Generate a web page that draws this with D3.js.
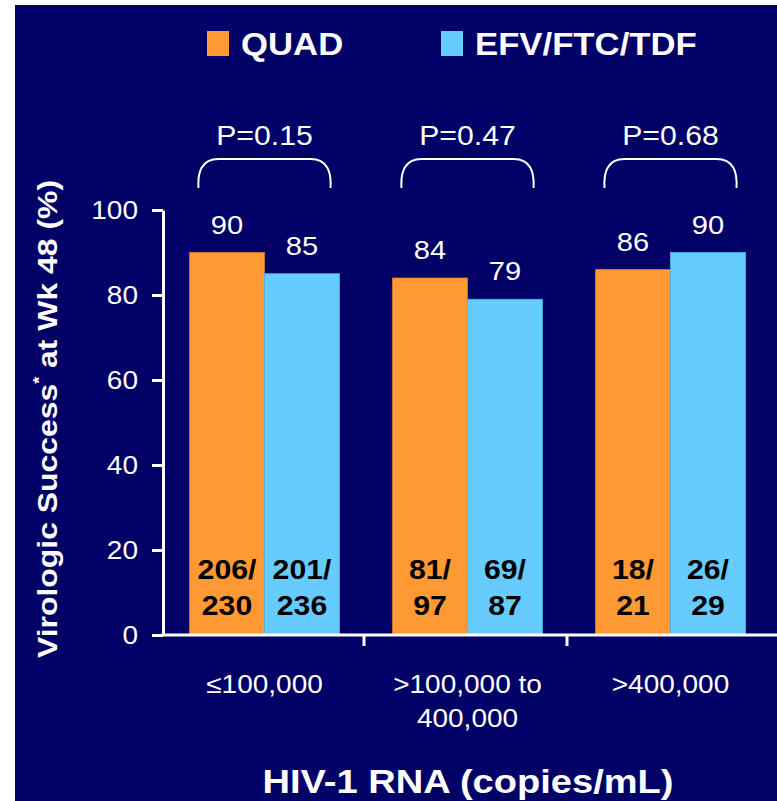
<!DOCTYPE html>
<html>
<head>
<meta charset="utf-8">
<script src="https://cdn.jsdelivr.net/npm/d3@7"></script>
<style>
  html, body { margin: 0; padding: 0; background: #ffffff; }
  svg { display: block; }
  text { font-family: "Liberation Sans", Arial, sans-serif; }
</style>
</head>
<body>
<svg id="chart" width="777" height="801"></svg>
<script>
// ---- data ----
const categories = ["≤100,000", ">100,000 to\n400,000", ">400,000"];
const seriesNames = ["QUAD", "EFV/FTC/TDF"];
const quadValues = [90, 84, 86];
const efvValues = [85, 79, 90];
const quadCounts = ["206/\n230", "81/\n97", "18/\n21"];
const efvCounts = ["201/\n236", "69/\n87", "26/\n29"];
const pValues = ["P=0.15", "P=0.47", "P=0.68"];
const yTicks = [0, 20, 40, 60, 80, 100];
const yTitle = "Virologic Success";
const yTitleRest = " at Wk 48 (%)";
const xTitle = "HIV-1 RNA (copies/mL)";

// ---- styles ----
const BG = "#000066", ORANGE = "#FF9933", BLUE = "#66CCFF", FG = "#ffffff";
const SX = 1.12; // horizontal stretch of the original slide text

const svg = d3.select("#chart");
svg.append("rect").attr("x", 15).attr("y", 5).attr("width", 762).attr("height", 796).attr("fill", BG);

const x0 = 163, yBase = 635, yTop = 210;
const x = d3.scaleBand().domain(categories).range([x0, x0 + 3 * 203]).paddingInner(0).paddingOuter(0);
const xi = d3.scaleBand().domain(seriesNames).range([26.5, 176.5]);
const y = d3.scaleLinear().domain([0, 100]).range([yBase, yTop]);

function txt(g, xx, yy, str, size, weight, anchor, fill, sx) {
  return g.append("text")
    .attr("transform", `translate(${xx},${yy}) scale(${sx || SX},1)`)
    .attr("font-size", size).attr("font-weight", weight || "normal")
    .attr("text-anchor", anchor || "middle").attr("fill", fill || FG)
    .text(str);
}

const rows = categories.map((c, i) => ({c, i, vals: [quadValues[i], efvValues[i]], counts: [quadCounts[i], efvCounts[i]]}));

// bars
const groups = svg.selectAll("g.grp").data(rows).join("g").attr("class", "grp")
  .attr("transform", d => `translate(${x(d.c)},0)`);
groups.selectAll("rect").data(d => d.vals.map((v, k) => ({v, k, n: d.counts[k]}))).join("rect")
  .attr("x", d => xi(seriesNames[d.k])).attr("width", xi.bandwidth())
  .attr("y", d => y(d.v)).attr("height", d => yBase - y(d.v))
  .attr("fill", d => d.k === 0 ? ORANGE : BLUE)
  .attr("stroke", d => d.k === 0 ? "#d9782a" : "#4fb3e6").attr("stroke-width", 0.8);

groups.each(function(d) {
  const g = d3.select(this);
  d.vals.forEach((v, k) => {
    const cx = xi(seriesNames[k]) + xi.bandwidth() / 2;
    txt(g, cx, y(v) - 19, String(v), 26, "normal", "middle", FG);
    const lines = d.counts[k].split("\n");
    txt(g, cx, 579, lines[0], 27, "bold", "middle", "#000000");
    txt(g, cx, 615, lines[1], 27, "bold", "middle", "#000000");
  });
  // bracket + p-value
  const cx = x.bandwidth() / 2;
  const L = cx - 66, R = cx + 66;
  g.append("path")
    .attr("d", `M${L},188 C${L - 1},172 ${L + 3},159 ${L + 20},159 L${R - 20},159 C${R - 3},159 ${R + 1},172 ${R},188`)
    .attr("fill", "none").attr("stroke", FG).attr("stroke-width", 2);
  txt(g, cx, 145, pValues[d.i], 27, "normal", "middle", FG);
  // category labels
  d.c.split("\n").forEach((line, j) => txt(g, cx, 693 + j * 34, line, 25, "normal", "middle", FG));
});

// y axis
const yAxis = d3.axisLeft(y).tickValues(yTicks).tickSize(11).tickPadding(14).tickSizeOuter(0);
const ya = svg.append("g").attr("transform", `translate(${x0},0)`).call(yAxis);
ya.select(".domain").attr("stroke", FG).attr("stroke-width", 3);
ya.selectAll(".tick line").attr("stroke", FG).attr("stroke-width", 3);
ya.selectAll(".tick text").remove();
yTicks.forEach(t => txt(svg, 138, y(t) + 9, String(t), 25, "normal", "end", FG));

// x axis
const xAxis = d3.axisBottom(x).tickSize(0).tickFormat("");
const xa = svg.append("g").attr("transform", `translate(0,${yBase})`).call(xAxis);
xa.select(".domain").remove();
xa.append("line").attr("x1", x0 - 1.5).attr("x2", 777).attr("stroke", FG).attr("stroke-width", 3);
categories.slice(1).forEach(c => {
  xa.append("line").attr("x1", x(c) - 2).attr("x2", x(c) - 2).attr("y1", 0).attr("y2", 11).attr("stroke", FG).attr("stroke-width", 3);
});

// legend
const legend = [{name: seriesNames[0], color: ORANGE, x: 207}, {name: seriesNames[1], color: BLUE, x: 441}];
legend.forEach(l => {
  svg.append("rect").attr("x", l.x).attr("y", 31).attr("width", 22).attr("height", 25).attr("fill", l.color);
  txt(svg, l.x + 34, 55, l.name, 31, "bold", "start", FG);
});

// titles
const yt = svg.append("text").attr("transform", `translate(57,419) rotate(-90) scale(${SX},1)`)
  .attr("font-size", 28.5).attr("font-weight", "bold").attr("fill", FG).attr("text-anchor", "middle");
yt.append("tspan").text(yTitle);
yt.append("tspan").attr("font-size", 16).attr("dy", -12).text("*");
yt.append("tspan").attr("dy", 12).text(yTitleRest);

txt(svg, 468, 793, xTitle, 34, "bold", "middle", FG);
</script>
</body>
</html>
